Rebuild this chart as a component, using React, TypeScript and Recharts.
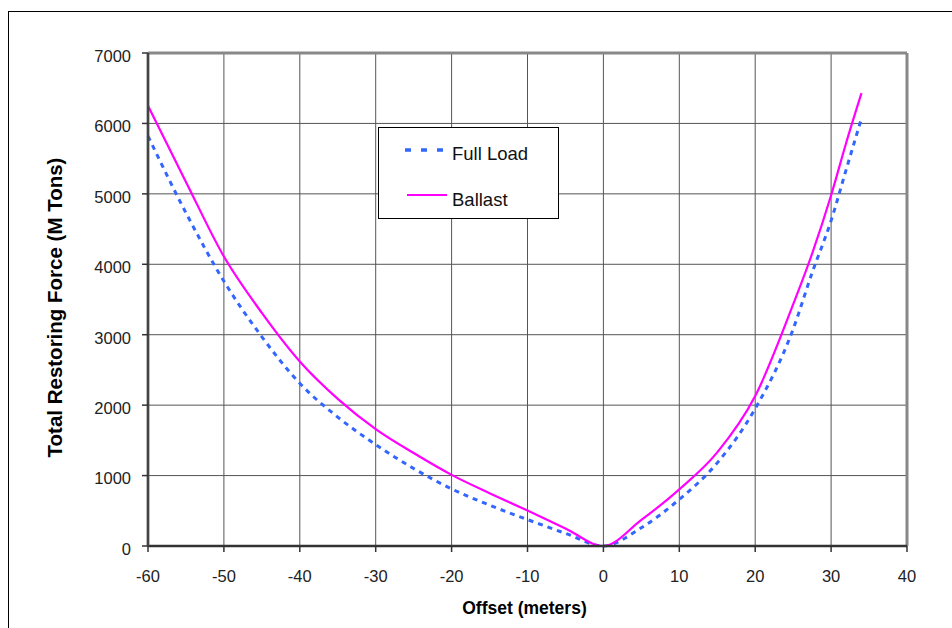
import { LineChart, Line, XAxis, YAxis, CartesianGrid, ReferenceLine } from 'recharts';

const offsets = [-60, -55, -50, -45, -40, -35, -30, -25, -20, -15, -10, -5, 0, 5, 10, 15, 20, 25, 27.5, 30, 32, 34];
const fullLoad = [5820, 4730, 3760, 2970, 2310, 1830, 1440, 1100, 811, 580, 375, 180, 0, 260, 662, 1180, 1950, 3080, 3880, 4620, 5350, 6070];
const ballast = [6250, 5170, 4110, 3310, 2620, 2090, 1660, 1320, 1010, 750, 505, 250, 0, 370, 805, 1330, 2130, 3430, 4150, 4980, 5730, 6430];
const xTicks = [-60, -50, -40, -30, -20, -10, 0, 10, 20, 30, 40];
const yTicks = [0, 1000, 2000, 3000, 4000, 5000, 6000, 7000];

const data = offsets.map((offset, i) => ({ offset, fullLoad: fullLoad[i], ballast: ballast[i] }));

const FONT = '"Liberation Sans", Arial, sans-serif';
const BLUE = '#3366FF';
const MAGENTA = '#FF00FF';

function XTick({ x, y, payload }: any) {
  return (
    <text x={x} y={y} dy="0.71em" textAnchor="middle" fontFamily={FONT} fontSize={16.5} fill="#222">
      {payload.value}
    </text>
  );
}

function YTick({ x, y, payload }: any) {
  return (
    <text x={x} y={y + 3} dy="0.355em" textAnchor="end" fontFamily={FONT} fontSize={16.5} fill="#222">
      {payload.value}
    </text>
  );
}

function YTitle({ viewBox }: any) {
  const cx = viewBox.x - 34;
  const cy = viewBox.y + viewBox.height / 2 + 8;
  return (
    <text
      x={cx}
      y={cy}
      transform={`rotate(-90 ${cx} ${cy})`}
      textAnchor="middle"
      dominantBaseline="central"
      fontFamily={FONT}
      fontSize={20.5}
      fontWeight="bold"
      fill="#000"
    >
      Total Restoring Force (M Tons)
    </text>
  );
}

function XTitle({ viewBox }: any) {
  const cx = viewBox.x + viewBox.width / 2 - 3;
  return (
    <text x={cx} y={614} textAnchor="middle" fontFamily={FONT} fontSize={17.5} fontWeight="bold" fill="#000">
      Offset (meters)
    </text>
  );
}

export default function App() {
  return (
    <div style={{ position: 'fixed', left: 0, top: 0, width: 952, height: 628, overflow: 'hidden', background: '#fff' }}>
      <div
        style={{
          position: 'absolute',
          left: 8,
          top: 11,
          width: 1000,
          height: 700,
          border: '1.3px solid #000',
        }}
      />
      <div style={{ position: 'absolute', left: 0, top: 0 }}>
        <LineChart width={952} height={628} data={data} margin={{ top: 53, right: 45, left: 88, bottom: 52 }}>
          <CartesianGrid stroke="#555" strokeWidth={1} horizontalValues={yTicks} verticalValues={xTicks} />
          <XAxis
            dataKey="offset"
            type="number"
            domain={[-60, 40]}
            ticks={xTicks}
            height={30}
            tickSize={6}
            tickMargin={18}
            tick={<XTick />}
            axisLine={{ stroke: '#333', strokeWidth: 2.5 }}
            tickLine={{ stroke: '#333', strokeWidth: 1.5 }}
            label={<XTitle />}
          />
          <YAxis
            type="number"
            domain={[0, 7000]}
            ticks={yTicks}
            width={60}
            tickSize={6}
            tickMargin={11}
            tick={<YTick />}
            axisLine={{ stroke: '#444', strokeWidth: 2.7 }}
            tickLine={{ stroke: '#333', strokeWidth: 1.5 }}
            label={<YTitle />}
          />
          <ReferenceLine y={7000} stroke="#888" strokeWidth={3} />
          <ReferenceLine x={40} stroke="#888" strokeWidth={3} />
          <Line
            type="monotone"
            dataKey="fullLoad"
            stroke={BLUE}
            strokeWidth={3}
            strokeDasharray="5 5"
            dot={false}
            isAnimationActive={false}
          />
          <Line
            type="monotone"
            dataKey="ballast"
            stroke={MAGENTA}
            strokeWidth={2.2}
            dot={false}
            isAnimationActive={false}
          />
        </LineChart>
      </div>
      <div
        style={{
          position: 'absolute',
          left: 378,
          top: 127,
          width: 179,
          height: 90,
          border: '1.3px solid #000',
          background: '#fff',
          fontFamily: FONT,
          fontSize: 18.5,
          color: '#111',
        }}
      >
        <svg width={179} height={90} style={{ position: 'absolute', left: 0, top: 0 }}>
          <line x1={26} y1={22} x2={65} y2={22} stroke={BLUE} strokeWidth={3.5} strokeDasharray="6 10" />
          <line x1={28} y1={67} x2={68} y2={67} stroke={MAGENTA} strokeWidth={2.2} />
          <text x={73} y={32} fontFamily={FONT} fontSize={18.5} fill="#111">Full Load</text>
          <text x={73} y={78} fontFamily={FONT} fontSize={18.5} fill="#111">Ballast</text>
        </svg>
      </div>
    </div>
  );
}
